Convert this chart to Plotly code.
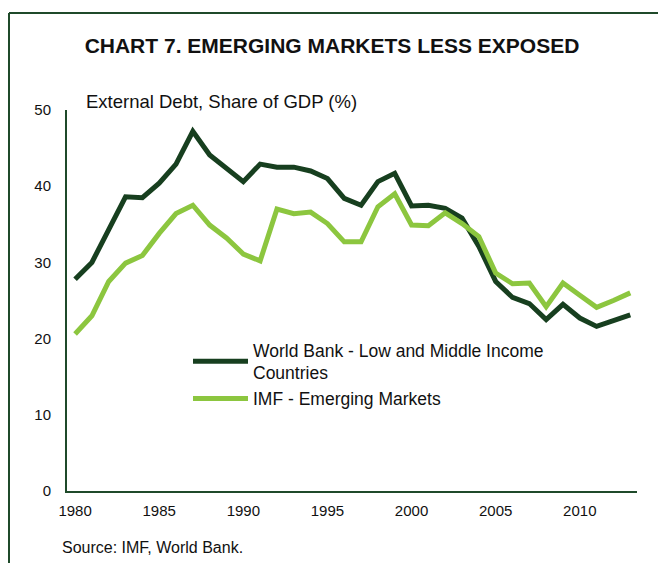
import plotly.graph_objects as go

years = list(range(1980, 2014))
world_bank = [27.8, 30.0, 34.3, 38.6, 38.5, 40.4, 42.9, 47.2, 44.1, 42.3,
              40.6, 42.9, 42.5, 42.5, 42.0, 41.0, 38.4, 37.5, 40.6, 41.7,
              37.4, 37.5, 37.1, 35.8, 32.1, 27.5, 25.4, 24.6, 22.5, 24.5,
              22.7, 21.6, 22.4, 23.1]
imf = [20.6, 23.0, 27.5, 29.9, 30.9, 33.8, 36.4, 37.5, 34.9, 33.2,
       31.1, 30.2, 37.0, 36.4, 36.6, 35.1, 32.7, 32.7, 37.3, 39.0,
       34.9, 34.8, 36.5, 35.1, 33.4, 28.6, 27.2, 27.3, 24.2, 27.3,
       25.7, 24.1, 25.0, 26.0]
series_names = ["World Bank - Low and Middle Income<br>Countries", "IMF - Emerging Markets"]
x_ticks = [1980, 1985, 1990, 1995, 2000, 2005, 2010]
y_ticks = [0, 10, 20, 30, 40, 50]

DARK = "#173f1f"
LIGHT = "#8cc63f"
AXIS = "#1f4a2a"
FONT = "Liberation Sans, Arial, sans-serif"

# plot area in reference pixels: x 67..637, y 110..491 (page has 8px body offset)
L, R, T, B = 59, 37, 102, 80

def px(xr):
    return (xr - 67) / 570

def py(yr):
    return (491 - yr) / 381

fig = go.Figure()
fig.add_trace(go.Scatter(x=years, y=world_bank, mode="lines", name=series_names[0],
                         line=dict(color=DARK, width=5)))
fig.add_trace(go.Scatter(x=years, y=imf, mode="lines", name=series_names[1],
                         line=dict(color=LIGHT, width=5)))

fig.update_layout(
    width=666, height=563,
    margin=dict(l=L, r=R, t=T, b=B),
    paper_bgcolor="white", plot_bgcolor="white",
    font=dict(family=FONT, color="#111111"),
    title=dict(text="<b>CHART 7. EMERGING MARKETS LESS EXPOSED</b>",
               x=px(332), xanchor="center", xref="paper",
               y=1 - (46 - 8) / 563, yanchor="middle",
               font=dict(size=21, family=FONT, color="#111111")),
    showlegend=True,
    legend=dict(x=px(188), y=py(332), xanchor="left", yanchor="top",
                bgcolor="rgba(0,0,0,0)", font=dict(size=17.5, family=FONT, color="#111111"),
                itemwidth=55, tracegroupgap=0),
    xaxis=dict(range=[1979.52, 2013.4], tickvals=x_ticks, showgrid=False, zeroline=False,
               showline=True, linecolor=AXIS, linewidth=2, ticks="",
               ticklabelstandoff=5, tickfont=dict(size=15, family=FONT, color="#111111")),
    yaxis=dict(range=[0, 50], tickvals=y_ticks, showgrid=False, zeroline=False,
               showline=True, linecolor=AXIS, linewidth=2, ticks="",
               ticklabelstandoff=11, tickfont=dict(size=15, family=FONT, color="#111111")),
    annotations=[
        dict(text="External Debt, Share of GDP (%)", xref="paper", yref="paper",
             x=px(84), y=py(101), xanchor="left", yanchor="middle",
             showarrow=False, font=dict(size=18.5, family=FONT, color="#111111")),
        dict(text="Source: IMF, World Bank.", xref="paper", yref="paper",
             x=px(60), y=py(547), xanchor="left", yanchor="middle",
             showarrow=False, font=dict(size=16, family=FONT, color="#111111")),
    ],
    shapes=[
        dict(type="line", xref="paper", yref="paper", x0=px(9), x1=px(9),
             y0=py(13), y1=py(575), line=dict(color=AXIS, width=2)),
        dict(type="line", xref="paper", yref="paper", x0=px(9), x1=px(680),
             y0=py(13), y1=py(13), line=dict(color=AXIS, width=2)),
    ],
)

fig.write_html("out.html")
